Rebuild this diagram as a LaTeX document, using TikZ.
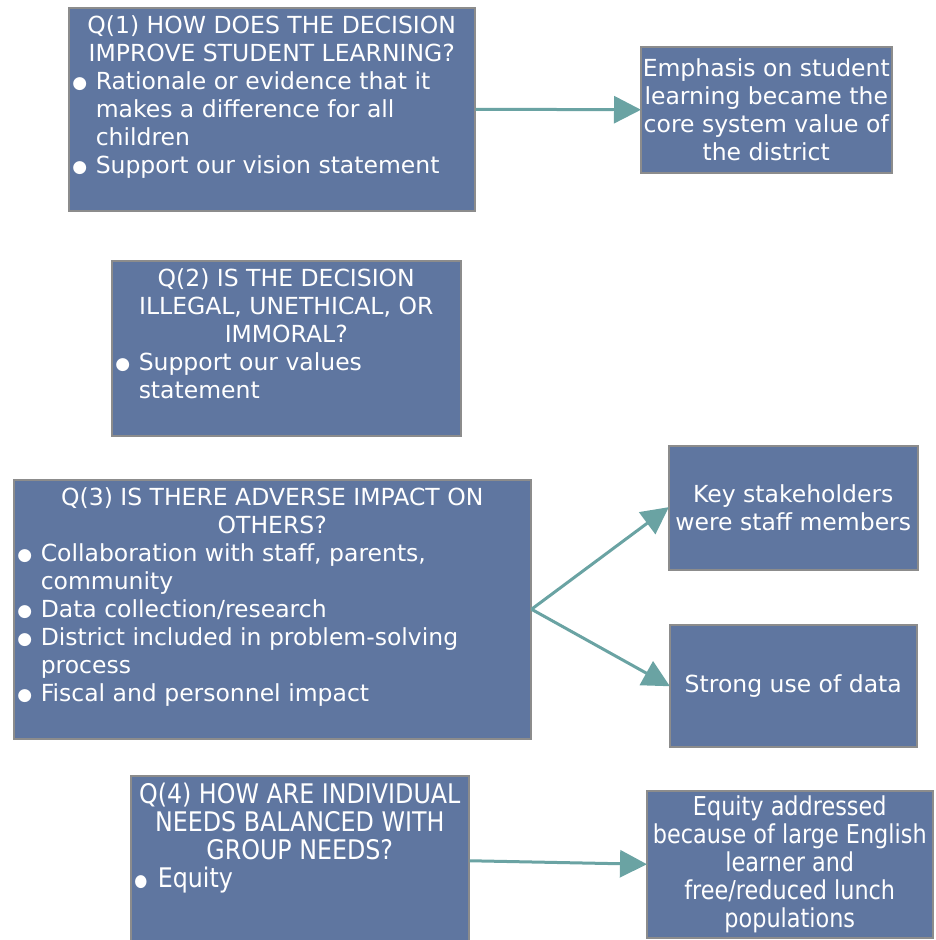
\documentclass[tikz,border=0pt]{standalone}
\usepackage{fontspec}
\setmainfont{DejaVu Sans}
\newfontfamily\condfont[FakeStretch=0.88]{DejaVu Sans}
\newfontfamily\condfontb[FakeStretch=0.86]{DejaVu Sans}
\usetikzlibrary{arrows.meta}
\definecolor{boxfill}{RGB}{95,118,160}
\definecolor{boxline}{RGB}{140,140,140}
\definecolor{arrcol}{RGB}{106,163,163}
\newcommand{\bulletmark}{\raisebox{1pt}{\fontsize{17}{17}\selectfont ●}}
\newcommand{\bitem}[1]{\par\noindent\hangindent=27pt\hangafter=1\makebox[27pt][l]{\hspace{3.5pt}\bulletmark}#1\par}
\newcommand{\normtext}{\fontsize{23.5}{28}\selectfont}
\newcommand{\condtext}{\condfont\fontsize{27}{28}\selectfont}
\newcommand{\condtextb}{\condfontb\fontsize{26}{28}\selectfont}
\tikzset{
  x=1pt,y=1pt,
  box/.style={draw=boxline, line width=1.5pt, fill=boxfill, text=white, inner sep=0pt, anchor=north west, font=\normtext},
  rbox/.style={box, align=center},
  arr/.style={draw=arrcol, line width=3pt, -{Triangle[length=27pt,width=27pt]}, shorten >=-1pt}
}
\begin{document}
\begin{tikzpicture}
\useasboundingbox (0,0) rectangle (935,-940);
% Q1
\node[box] (q1) at (68,-7) {\begin{minipage}[t][203pt][t]{406pt}\normtext\vspace*{8pt}
{\centering Q(1) HOW DOES THE DECISION\\ IMPROVE STUDENT LEARNING?\par}
\bitem{Rationale or evidence that it\\ makes a difference for all\\ children}
\bitem{Support our vision statement}
\end{minipage}};
% Q2
\node[box] (q2) at (111,-260) {\begin{minipage}[t][175pt][t]{349pt}\normtext\vspace*{8pt}
{\centering Q(2) IS THE DECISION\\ ILLEGAL, UNETHICAL, OR\\ IMMORAL?\par}
\bitem{Support our values\\ statement}
\end{minipage}};
% Q3
\node[box] (q3) at (13,-479) {\begin{minipage}[t][259pt][t]{517pt}\normtext\vspace*{8pt}
{\centering Q(3) IS THERE ADVERSE IMPACT ON\\ OTHERS?\par}
\bitem{Collaboration with staff, parents,\\ community}
\bitem{Data collection/research}
\bitem{District included in problem-solving\\ process}
\bitem{Fiscal and personnel impact}
\end{minipage}};
% Q4
\node[box] (q4) at (130,-775) {\begin{minipage}[t][170pt][t]{338pt}\condtext\vspace*{7pt}
{\centering Q(4) HOW ARE INDIVIDUAL\\ NEEDS BALANCED WITH\\ GROUP NEEDS?\par}
\bitem{Equity}
\end{minipage}};
% Right boxes
\node[rbox, minimum width=251pt, minimum height=126pt] (e1) at (640,-46)
  {Emphasis on student\\ learning became the\\ core system value of\\ the district};
\node[rbox, minimum width=249pt, minimum height=124pt] (k) at (668,-445)
  {Key stakeholders\\ were staff members};
\node[rbox, minimum width=247pt, minimum height=122pt] (s) at (669,-624)
  {Strong use of data};
\node[rbox, minimum width=286pt, minimum height=147pt, font=\condtextb] (eq) at (646,-790)
  {Equity addressed\\ because of large English\\ learner and\\ free/reduced lunch\\ populations};
% Arrows
\draw[arr] (q1.east) -- (e1.west);
\draw[arr] (q3.east) -- (k.west);
\draw[arr] (q3.east) -- (s.west);
\draw[arr] (q4.east) -- (eq.west);
\end{tikzpicture}
\end{document}
